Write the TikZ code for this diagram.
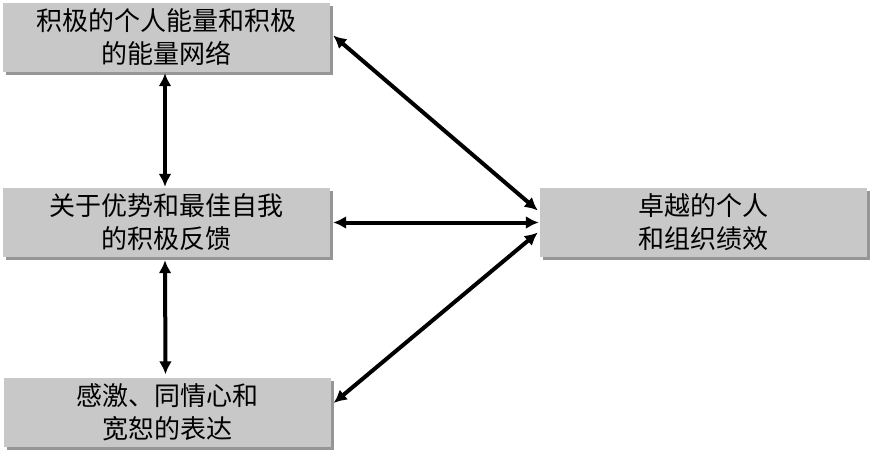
\documentclass[tikz,border=0pt]{standalone}
\usepackage{fontspec}
\setmainfont{Noto Sans CJK SC}
\usetikzlibrary{arrows.meta,shadows}
\definecolor{boxgray}{RGB}{200,200,200}
\definecolor{shadowgray}{RGB}{150,150,150}
\begin{document}
\begin{tikzpicture}[x=1pt,y=-1pt,
  box/.style={draw=none, fill=boxgray, minimum width=327pt, minimum height=69pt,
    inner sep=0pt, align=center, font=\fontsize{26}{33}\selectfont,
    drop shadow={shadow xshift=3pt, shadow yshift=-3pt, fill=shadowgray, opacity=1}},
  arr/.style={line width=4pt, {Latex[length=13pt,width=13pt]}-{Latex[length=13pt,width=13pt]}}]
\useasboundingbox (0,0) rectangle (873,450);
\node[box] (T) at (166.5,37.5) {积极的个人能量和积极\\的能量网络};
\node[box] (M) at (166.5,222.5) {关于优势和最佳自我\\的积极反馈};
\node[box] (B) at (167,412) {感激、同情心和\\宽恕的表达};
\node[box] (R) at (703.5,222.5) {卓越的个人\\和组织绩效};
\draw[arr] ([xshift=-1.5pt,yshift=-1pt]T.south) -- ([xshift=-1.5pt,yshift=1pt]M.north);
\draw[arr] ([xshift=-1.5pt,yshift=-3pt]M.south) -- ([xshift=-1.5pt,yshift=3pt]B.north);
\draw[arr] ([xshift=3pt,yshift=2pt]T.east) -- ([xshift=-2pt,yshift=12pt]R.west);
\draw[arr] ([xshift=3pt]M.east) -- ([xshift=-1pt]R.west);
\draw[arr] ([xshift=3pt,yshift=9pt]B.east) -- ([xshift=-2pt,yshift=-10pt]R.west);
\end{tikzpicture}
\end{document}
